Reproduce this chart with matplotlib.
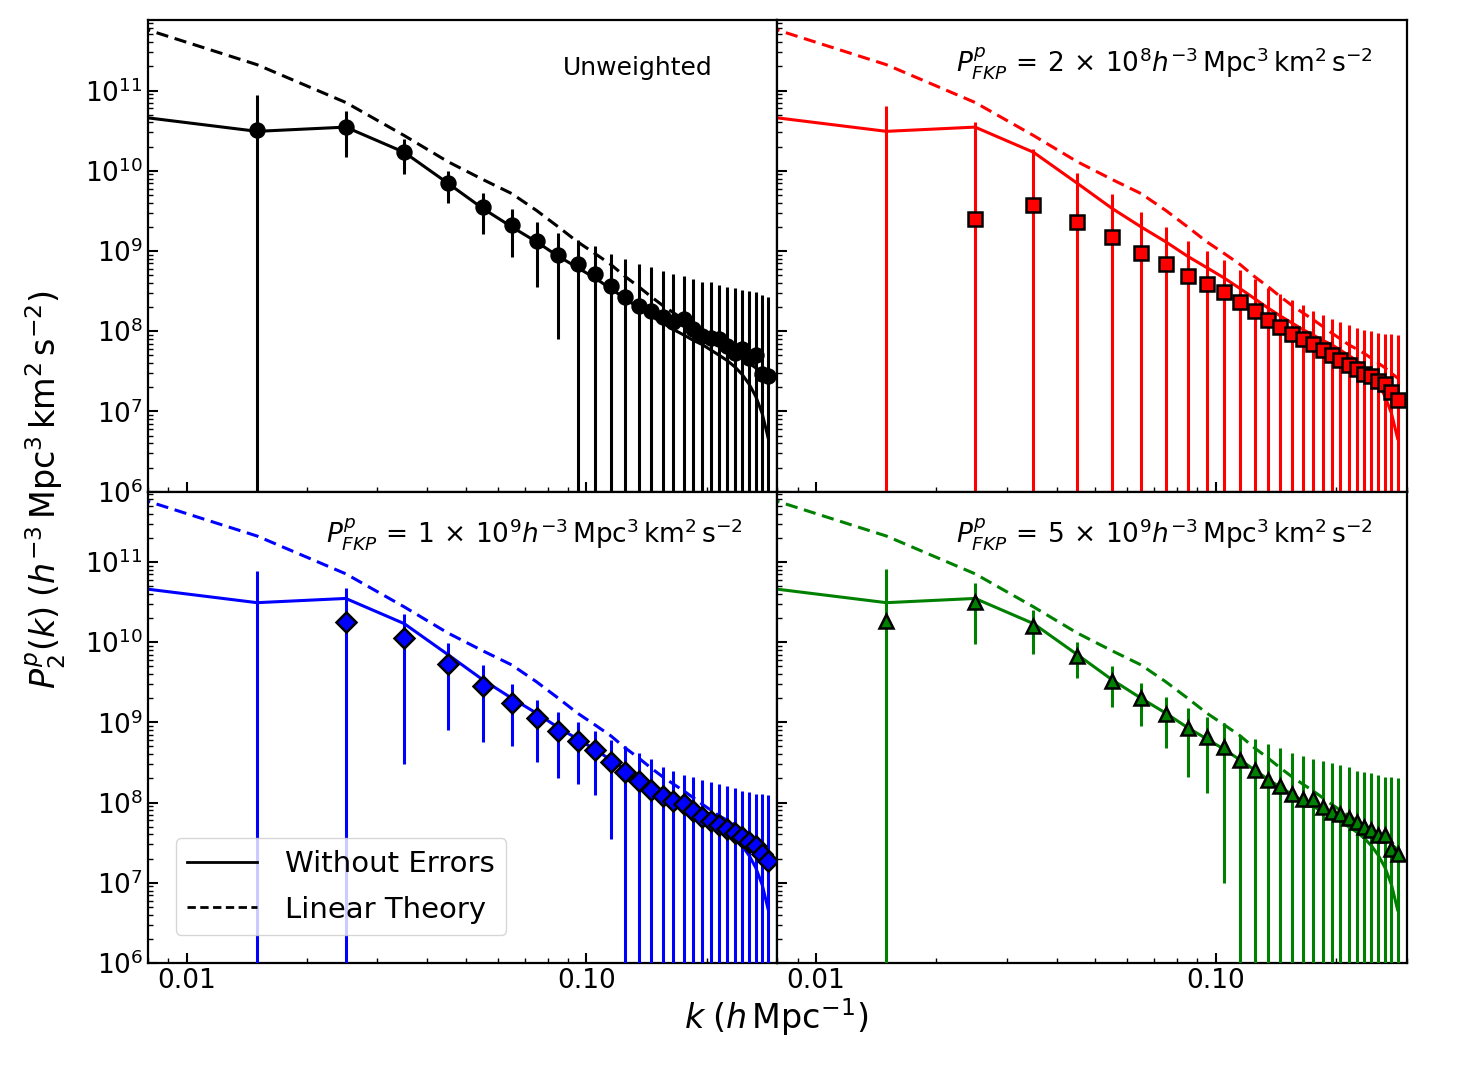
import numpy as np
import matplotlib
matplotlib.use("Agg")
import matplotlib.pyplot as plt
from matplotlib.ticker import LogLocator, FormatStrFormatter, NullFormatter
from matplotlib.lines import Line2D

plt.rcParams['font.family'] = ['DejaVu Sans']
plt.rcParams['mathtext.fontset'] = 'dejavusans'

# k bins (h/Mpc)
k = [0.015, 0.025, 0.035, 0.045, 0.055, 0.065, 0.075, 0.085, 0.095, 0.105,
     0.115, 0.125, 0.135, 0.145, 0.155, 0.165, 0.175, 0.185, 0.195, 0.205,
     0.215, 0.225, 0.235, 0.245, 0.255, 0.265, 0.275, 0.285]
# lines also have a bin at 0.005 (off the plot on the left)
k_lines = [0.005] + k

without_errors = [6.1e10, 3.1e10, 3.5e10, 1.7e10, 7.0e9, 3.4e9, 2.0e9, 1.3e9, 8.6e8,
                  6.2e8, 4.6e8, 3.4e8, 2.55e8, 1.95e8, 1.55e8, 1.27e8, 1.05e8, 9.0e7,
                  7.7e7, 6.8e7, 5.8e7, 5.0e7, 4.3e7, 3.6e7, 2.9e7, 2.2e7, 1.55e7,
                  9.5e6, 4.6e6]
linear_theory = [1.2e12, 2.1e11, 7.1e10, 2.75e10, 1.3e10, 7.8e9, 5.2e9, 3.2e9, 2.0e9,
                 1.3e9, 9.3e8, 6.8e8, 4.8e8, 3.6e8, 2.7e8, 2.1e8, 1.7e8, 1.4e8,
                 1.15e8, 9.5e7, 8.0e7, 6.8e7, 6.0e7, 5.3e7, 4.6e7, 4.0e7, 3.5e7,
                 3.0e7, 2.6e7]

# unweighted
p_unw = [3.2e10, 3.5e10, 1.7e10, 7.0e9, 3.5e9, 2.1e9, 1.32e9, 8.8e8, 6.9e8, 5.2e8,
         3.7e8, 2.7e8, 2.09e8, 1.81e8, 1.49e8, 1.29e8, 1.42e8, 1.07e8, 8.6e7, 8.2e7,
         8.0e7, 6.6e7, 5.3e7, 6.0e7, 4.7e7, 5.0e7, 2.9e7, 2.8e7]
e_unw = [5.5e10, 2.0e10, 8.0e9, 3.0e9, 1.85e9, 1.25e9, 9.6e8, 8.0e8, 7.0e8, 6.5e8,
         5.6e8, 5.2e8, 4.8e8, 4.5e8, 4.1e8, 3.9e8, 3.5e8, 3.4e8, 3.3e8, 3.3e8,
         3.0e8, 2.9e8, 2.9e8, 2.7e8, 2.7e8, 2.55e8, 2.55e8, 2.4e8]

# FKP 2e8
p_2e8 = [-1.0e10, 2.5e9, 3.76e9, 2.28e9, 1.48e9, 9.5e8, 6.8e8, 4.9e8, 3.9e8, 3.06e8,
         2.34e8, 1.77e8, 1.38e8, 1.12e8, 9.1e7, 8.0e7, 6.9e7, 5.8e7, 5.0e7, 4.4e7,
         3.8e7, 3.4e7, 2.9e7, 2.8e7, 2.4e7, 2.2e7, 1.73e7, 1.39e7]
e_2e8 = [7.5e10, 3.75e10, 1.5e10, 7.0e9, 3.7e9, 2.1e9, 1.3e9, 8.6e8, 6.2e8, 4.7e8,
         3.5e8, 2.7e8, 2.1e8, 1.8e8, 1.54e8, 1.3e8, 1.1e8, 1.0e8, 9.0e7, 8.5e7,
         8.2e7, 7.6e7, 7.6e7, 7.2e7, 7.2e7, 7.1e7, 7.5e7, 7.6e7]

# FKP 1e9
p_1e9 = [-1.0e10, 1.76e10, 1.13e10, 5.3e9, 2.87e9, 1.75e9, 1.12e9, 7.7e8, 5.9e8, 4.55e8,
         3.2e8, 2.4e8, 1.84e8, 1.45e8, 1.19e8, 1.04e8, 9.5e7, 7.8e7, 6.6e7, 5.9e7,
         5.2e7, 4.7e7, 4.2e7, 3.7e7, 3.2e7, 2.85e7, 2.3e7, 1.87e7]
e_1e9 = [8.7e10, 3.0e10, 1.1e10, 4.5e9, 2.3e9, 1.25e9, 8.0e8, 5.7e8, 4.2e8, 3.3e8,
         2.85e8, 2.6e8, 2.3e8, 2.05e8, 1.57e8, 1.46e8, 1.25e8, 1.3e8, 1.24e8, 1.2e8,
         1.2e8, 1.13e8, 1.08e8, 1.03e8, 1.04e8, 1.0e8, 1.04e8, 1.04e8]

# FKP 5e9
p_5e9 = [1.85e10, 3.2e10, 1.6e10, 6.8e9, 3.3e9, 2.0e9, 1.28e9, 8.5e8, 6.5e8, 4.9e8,
         3.4e8, 2.57e8, 1.93e8, 1.6e8, 1.26e8, 1.12e8, 1.12e8, 8.9e7, 7.6e7, 7.3e7,
         6.5e7, 5.8e7, 4.9e7, 4.6e7, 3.9e7, 3.9e7, 2.6e7, 2.3e7]
e_5e9 = [6.3e10, 2.25e10, 8.8e9, 3.2e9, 1.75e9, 1.1e9, 8.0e8, 6.4e8, 5.2e8, 4.8e8,
         3.6e8, 3.7e8, 3.5e8, 3.2e8, 2.85e8, 2.7e8, 2.4e8, 2.4e8, 2.35e8, 2.2e8,
         2.1e8, 1.9e8, 1.9e8, 1.85e8, 1.8e8, 1.7e8, 1.8e8, 1.77e8]

panel_text = [
    "Unweighted",
    r"$P^{p}_{FKP}\,=\,2\,\times\,10^{8}h^{-3}\,\mathrm{Mpc}^{3}\,\mathrm{km}^{2}\,\mathrm{s}^{-2}$",
    r"$P^{p}_{FKP}\,=\,1\,\times\,10^{9}h^{-3}\,\mathrm{Mpc}^{3}\,\mathrm{km}^{2}\,\mathrm{s}^{-2}$",
    r"$P^{p}_{FKP}\,=\,5\,\times\,10^{9}h^{-3}\,\mathrm{Mpc}^{3}\,\mathrm{km}^{2}\,\mathrm{s}^{-2}$",
]
panel_p = [p_unw, p_2e8, p_1e9, p_5e9]
panel_e = [e_unw, e_2e8, e_1e9, e_5e9]
colores = ["black", "red", "blue", "green"]
marcadores = ["o", "s", "D", "^"]
tamanos = [10, 10, 10.5, 10.5]

fig, axes = plt.subplots(2, 2, sharex=True, sharey=True, figsize=(14.79, 10.70), dpi=100)
plt.subplots_adjust(left=0.1, right=0.951, bottom=0.1, top=0.981, wspace=0, hspace=0)

for i, ax in enumerate(axes.flat):
    c = colores[i]
    ax.plot(k_lines, without_errors, color=c, lw=2.2, zorder=2)
    ax.plot(k_lines, linear_theory, color=c, lw=2.2, ls=(0, (4, 2.2)), zorder=2)
    p = np.array(panel_p[i])
    p_plot = np.where(p > 0, p, np.nan)
    ax.errorbar(k, p, yerr=panel_e[i], fmt="none", ecolor=c, elinewidth=2.2,
                capsize=0, zorder=3)
    ax.plot(k, p_plot, ls="none", marker=marcadores[i], ms=tamanos[i],
            mfc=c, mec="black", mew=1.8, zorder=4)

    if i == 0:
        ax.text(0.778, 0.898, panel_text[i], transform=ax.transAxes, fontsize=18,
                ha="center", va="center")
    else:
        ax.text(0.946, 0.91, panel_text[i], transform=ax.transAxes, fontsize=19,
                ha="right", va="center")

    ax.set_xscale("log")
    ax.set_yscale("log")
    ax.set_xlim(0.008, 0.3)
    ax.set_ylim(1e6, 7.5e11)
    ax.yaxis.set_major_locator(LogLocator(base=10, numticks=20))
    ax.yaxis.set_minor_locator(LogLocator(base=10, subs=np.arange(2, 10), numticks=20))
    ax.yaxis.set_minor_formatter(NullFormatter())
    ax.xaxis.set_major_formatter(FormatStrFormatter("%.2f"))
    ax.xaxis.set_minor_formatter(NullFormatter())
    ax.tick_params(which="both", direction="in", top=False, right=False, labelsize=19)
    ax.tick_params(which="major", length=7, width=1.5)
    ax.tick_params(which="minor", length=3.5, width=1)
    for sp in ax.spines.values():
        sp.set_linewidth(1.6)

legend_elements = [
    Line2D([0], [0], color="black", lw=2, label="Without Errors"),
    Line2D([0], [0], color="black", lw=2, ls=(0, (3, 1.6)), label="Linear Theory"),
]
axes[1, 0].legend(handles=legend_elements, loc="lower left", fontsize=21,
                  handlelength=2.4, handletextpad=0.95, borderaxespad=0.95,
                  labelspacing=0.6)

fig.text(0.525, 0.049, r"$k\;(h\,\mathrm{Mpc}^{-1})$", ha="center", va="center", fontsize=24)
fig.text(0.031, 0.542, r"$P^{p}_{2}(k)\;(h^{-3}\,\mathrm{Mpc}^{3}\,\mathrm{km}^{2}\,\mathrm{s}^{-2})$",
         ha="center", va="center", rotation=90, fontsize=24)

plt.savefig("out.png", dpi=100)
